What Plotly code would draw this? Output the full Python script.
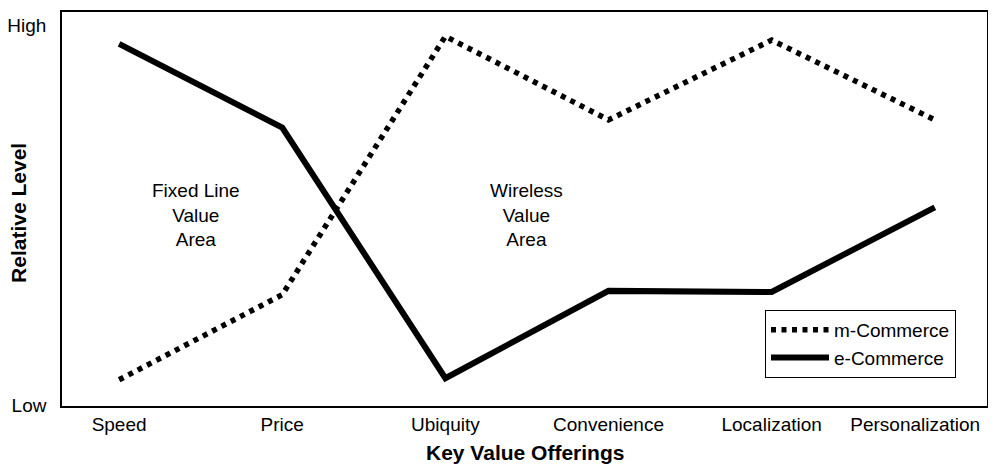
import plotly.graph_objects as go

categories = ["Speed", "Price", "Ubiquity", "Convenience", "Localization", "Personalization"]
m_commerce = [0.66, 2.9, 9.7, 7.5, 9.6, 7.5]
e_commerce = [9.5, 7.3, 0.7, 3.0, 2.97, 5.2]
y_tick_vals = [0, 10]
y_tick_text = ["Low", "High"]

x = list(range(len(categories)))
FONT = "Liberation Sans, Arial, sans-serif"

fig = go.Figure()
fig.add_trace(go.Scatter(x=x, y=m_commerce, mode="lines", name="m-Commerce",
                         line=dict(color="black", width=5.5, dash="5px,5.5px")))
fig.add_trace(go.Scatter(x=x, y=e_commerce, mode="lines", name="e-Commerce",
                         line=dict(color="black", width=6)))

fig.add_annotation(x=0.47, y=5.0, text="Fixed Line<br>Value<br>Area", showarrow=False,
                   font=dict(size=19, color="black", family=FONT))
fig.add_annotation(x=2.5, y=5.0, text="Wireless<br>Value<br>Area", showarrow=False,
                   font=dict(size=19, color="black", family=FONT))

# axis titles
fig.add_annotation(xref="paper", yref="paper", x=0.5, y=-0.085, yanchor="top",
                   text="<b>Key Value Offerings</b>", showarrow=False,
                   font=dict(size=21, color="black", family=FONT))
fig.add_annotation(xref="paper", yref="paper", x=-0.0465, y=0.49, xanchor="center",
                   text="<b>Relative Level</b>", showarrow=False, textangle=-90,
                   font=dict(size=21, color="black", family=FONT))

tickpos = x[:-1] + [4.88]
fig.update_layout(
    width=988, height=458,
    margin=dict(l=54, r=9, t=4, b=60, autoexpand=False),
    paper_bgcolor="white", plot_bgcolor="white",
    font=dict(family=FONT, size=19, color="black"),
    showlegend=True,
    legend=dict(x=0.76, y=0.244, xanchor="left", yanchor="top",
                bordercolor="black", borderwidth=1, bgcolor="white",
                font=dict(size=19), tracegroupgap=0, itemwidth=58),
    xaxis=dict(range=[-0.35, 5.32], tickvals=tickpos, ticktext=categories,
               showgrid=False, zeroline=False, showline=True, linecolor="black",
               linewidth=1.5, mirror=True, ticks="", automargin=False),
    yaxis=dict(range=[-0.03, 10.34], tickvals=y_tick_vals, ticktext=y_tick_text,
               showgrid=False, zeroline=False, showline=True, linecolor="black",
               linewidth=1.5, mirror=True, ticks="", ticklabelstandoff=10,
               automargin=False),
)
fig.write_html("out.html")
